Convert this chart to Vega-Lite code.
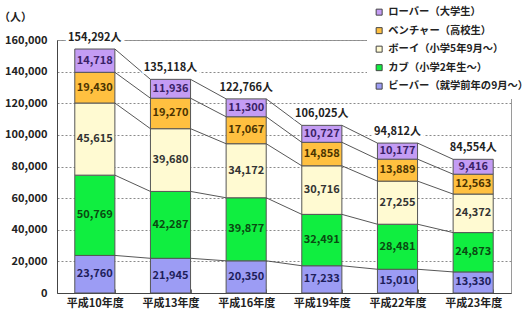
{
  "$schema": "https://vega.github.io/schema/vega-lite/v6.json",
  "width": 454,
  "height": 253,
  "autosize": {"type": "none"},
  "padding": {"left": 57, "top": 40, "right": 16, "bottom": 35},
  "config": {
    "font": "Noto Sans CJK JP",
    "view": {"stroke": "#9a9a9a"},
    "axis": {"labelFont": "Noto Sans CJK JP"},
    "axisY": {
      "tickCount": 8, "labelOverlap": false,
      "format": ",d", "labelFontSize": 11, "labelFontWeight": "bold", "labelColor": "#222",
      "domainColor": "#444", "tickSize": 0, "labelPadding": 10,
      "gridColor": "#8a8a8a", "gridDash": [2, 2], "gridWidth": 1,
      "titleAngle": 0, "titleX": -42, "titleY": -23, "titleAlign": "center", "titleBaseline": "middle",
      "titleFontSize": 11, "titleFontWeight": "bold", "titleColor": "#222"
    }
  },
  "data": {
    "values": [
      {"year": "平成10年度", "series": "ビーバー（就学前年の9月～）", "value": 23760},
      {"year": "平成10年度", "series": "カブ（小学2年生～）", "value": 50769},
      {"year": "平成10年度", "series": "ボーイ（小学5年9月～）", "value": 45615},
      {"year": "平成10年度", "series": "ベンチャー（高校生）", "value": 19430},
      {"year": "平成10年度", "series": "ローバー（大学生）", "value": 14718},
      {"year": "平成13年度", "series": "ビーバー（就学前年の9月～）", "value": 21945},
      {"year": "平成13年度", "series": "カブ（小学2年生～）", "value": 42287},
      {"year": "平成13年度", "series": "ボーイ（小学5年9月～）", "value": 39680},
      {"year": "平成13年度", "series": "ベンチャー（高校生）", "value": 19270},
      {"year": "平成13年度", "series": "ローバー（大学生）", "value": 11936},
      {"year": "平成16年度", "series": "ビーバー（就学前年の9月～）", "value": 20350},
      {"year": "平成16年度", "series": "カブ（小学2年生～）", "value": 39877},
      {"year": "平成16年度", "series": "ボーイ（小学5年9月～）", "value": 34172},
      {"year": "平成16年度", "series": "ベンチャー（高校生）", "value": 17067},
      {"year": "平成16年度", "series": "ローバー（大学生）", "value": 11300},
      {"year": "平成19年度", "series": "ビーバー（就学前年の9月～）", "value": 17233},
      {"year": "平成19年度", "series": "カブ（小学2年生～）", "value": 32491},
      {"year": "平成19年度", "series": "ボーイ（小学5年9月～）", "value": 30716},
      {"year": "平成19年度", "series": "ベンチャー（高校生）", "value": 14858},
      {"year": "平成19年度", "series": "ローバー（大学生）", "value": 10727},
      {"year": "平成22年度", "series": "ビーバー（就学前年の9月～）", "value": 15010},
      {"year": "平成22年度", "series": "カブ（小学2年生～）", "value": 28481},
      {"year": "平成22年度", "series": "ボーイ（小学5年9月～）", "value": 27255},
      {"year": "平成22年度", "series": "ベンチャー（高校生）", "value": 13889},
      {"year": "平成22年度", "series": "ローバー（大学生）", "value": 10177},
      {"year": "平成23年度", "series": "ビーバー（就学前年の9月～）", "value": 13330},
      {"year": "平成23年度", "series": "カブ（小学2年生～）", "value": 24873},
      {"year": "平成23年度", "series": "ボーイ（小学5年9月～）", "value": 24372},
      {"year": "平成23年度", "series": "ベンチャー（高校生）", "value": 12563},
      {"year": "平成23年度", "series": "ローバー（大学生）", "value": 9416}
    ]
  },
  "transform": [
    {"calculate": "indexof(['ビーバー（就学前年の9月～）','カブ（小学2年生～）','ボーイ（小学5年9月～）','ベンチャー（高校生）','ローバー（大学生）'], datum.series)", "as": "ord"},
    {"stack": "value", "groupby": ["year"], "sort": [{"field": "ord", "order": "ascending"}], "as": ["y0", "y1"]}
  ],
  "layer": [
    {
      "mark": {"type": "bar", "stroke": "#555555", "strokeWidth": 1},
      "encoding": {
        "x": {
          "field": "year", "type": "nominal", "title": null,
          "scale": {"paddingInner": 0.47, "paddingOuter": 0.235},
          "axis": {
            "labelAngle": 0, "labelFontSize": 11, "labelFontWeight": "bold", "labelColor": "#222",
            "domainColor": "#444", "tickColor": "#666", "tickBand": "extent", "tickSize": -4,
            "labelPadding": 8
          }
        },
        "y": {
          "field": "y0", "type": "quantitative", "title": "（人）",
          "scale": {"domain": [0, 160000], "nice": false}
        },
        "y2": {"field": "y1"},
        "color": {
          "field": "series", "type": "nominal",
          "scale": {
            "domain": ["ローバー（大学生）", "ベンチャー（高校生）", "ボーイ（小学5年9月～）", "カブ（小学2年生～）", "ビーバー（就学前年の9月～）"],
            "range": ["#C49CF4", "#FFC040", "#FFFAD2", "#10EE40", "#9C9CF4"]
          },
          "legend": {
            "orient": "none", "legendX": 310, "legendY": -40, "title": null,
            "fillColor": "white", "padding": 7, "symbolType": "square", "symbolSize": 36,
            "symbolStrokeColor": "#444", "symbolStrokeWidth": 1,
            "labelFontSize": 10.3, "labelFontWeight": "bold", "labelColor": "#222", "rowPadding": 7.5,
            "labelLimit": 300, "labelOffset": 4
          }
        }
      }
    },
    {
      "transform": [
        {"window": [{"op": "lead", "field": "y1", "as": "ny1"}, {"op": "lead", "field": "year", "as": "nyear"}],
         "groupby": ["series"], "sort": [{"field": "year", "order": "ascending"}]},
        {"filter": "datum.nyear != null"}
      ],
      "mark": {"type": "rule", "color": "#444444", "strokeWidth": 0.9},
      "encoding": {
        "x": {"field": "year", "type": "nominal", "bandPosition": 1, "title": null},
        "x2": {"field": "nyear", "bandPosition": 0},
        "y": {"field": "y1", "type": "quantitative", "title": "（人）"},
        "y2": {"field": "ny1"}
      }
    },
    {
      "transform": [{"calculate": "(datum.y0 + datum.y1) / 2", "as": "mid"}],
      "mark": {"type": "text", "fontSize": 11, "fontWeight": "bold"},
      "encoding": {
        "x": {"field": "year", "type": "nominal", "title": null},
        "y": {"field": "mid", "type": "quantitative", "title": "（人）"},
        "text": {"field": "value", "type": "quantitative", "format": ",d"},
        "fill": {
          "field": "series", "type": "nominal", "legend": null,
          "scale": {
            "domain": ["ローバー（大学生）", "ベンチャー（高校生）", "ボーイ（小学5年9月～）", "カブ（小学2年生～）", "ビーバー（就学前年の9月～）"],
            "range": ["#3A1F66", "#4A3300", "#333333", "#0A4A12", "#1E1E5A"]
          }
        }
      }
    },
    {
      "transform": [
        {"aggregate": [{"op": "sum", "field": "value", "as": "total"}], "groupby": ["year"]},
        {"calculate": "format(datum.total, ',') + '人'", "as": "label"}
      ],
      "layer": [
        {
          "mark": {"type": "text", "fontSize": 11, "fontWeight": "bold", "dy": -11, "stroke": "white", "strokeWidth": 6, "strokeJoin": "round", "fill": "white"},
          "encoding": {
            "x": {"field": "year", "type": "nominal", "title": null},
            "y": {"field": "total", "type": "quantitative", "title": "（人）"},
            "text": {"field": "label"}
          }
        },
        {
          "mark": {"type": "text", "fontSize": 11, "fontWeight": "bold", "dy": -11, "color": "#222"},
          "encoding": {
            "x": {"field": "year", "type": "nominal", "title": null},
            "y": {"field": "total", "type": "quantitative", "title": "（人）"},
            "text": {"field": "label"}
          }
        }
      ]
    }
  ]
}
